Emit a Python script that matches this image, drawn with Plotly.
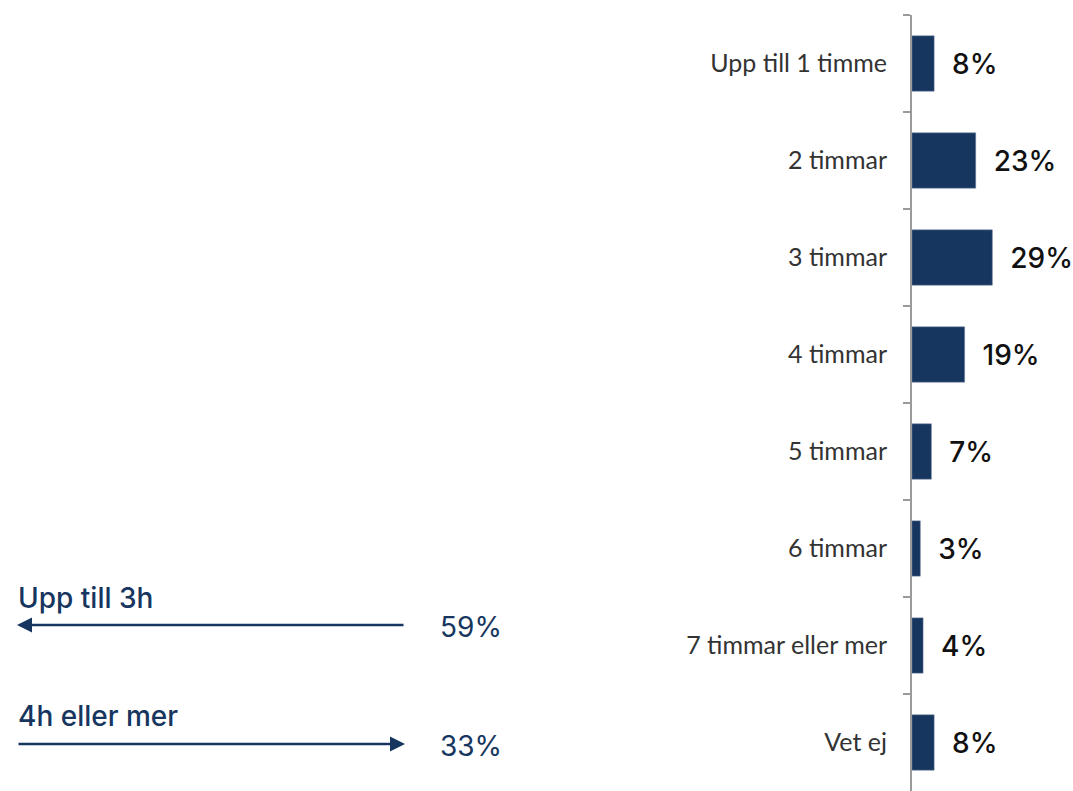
import plotly.graph_objects as go

categories = ["Upp till 1 timme", "2 timmar", "3 timmar", "4 timmar",
              "5 timmar", "6 timmar", "7 timmar eller mer", "Vet ej"]
values = [8, 23, 29, 19, 7, 3, 4, 8]

summary_labels = ["Upp till 3h", "4h eller mer"]
summary_values = [59, 33]

NAVY = "#17365f"
W, H = 1073, 791
T, B = 15, 0
AXIS_X = 912

def px(x):
    return x / W

def py(y):
    return 1 - (y - T) / (H - T - B)

fig = go.Figure()
fig.add_trace(go.Bar(
    y=categories, x=values, orientation="h",
    marker=dict(color=NAVY, line=dict(color="#6c7f9c", width=0.5)),
    width=0.57,
    text=["\u00a0\u00a0%d%%" % v for v in values],
    textposition="outside",
    textfont=dict(family="Inter, Lato, sans-serif", size=28, color="#111111", weight=500),
    cliponaxis=False,
    hoverinfo="skip",
))

fig.update_layout(
    width=W, height=H,
    margin=dict(l=0, r=0, t=T, b=B),
    paper_bgcolor="white", plot_bgcolor="white",
    showlegend=False,
    xaxis=dict(domain=[AXIS_X / W, 1], range=[0, (W - AXIS_X) / 2.77],
               visible=False, fixedrange=True),
    yaxis=dict(autorange="reversed", showline=True, linecolor="#9a9a9a",
               linewidth=2, ticks="outside", tickson="boundaries",
               ticklen=7, tickcolor="#9a9a9a", tickwidth=2,
               showgrid=False, zeroline=False, fixedrange=True,
               tickfont=dict(family="Lato, Inter, sans-serif", size=25, color="#333333"),
               ticklabelstandoff=18),
)

# summary annotations
label_y = [598, 716]
line_y = [625, 744]
for i, (lab, val) in enumerate(zip(summary_labels, summary_values)):
    fig.add_annotation(x=px(16), y=py(label_y[i]), xref="paper", yref="paper",
                       text=lab, showarrow=False, xanchor="left", yanchor="middle",
                       font=dict(family="Inter, Lato, sans-serif", size=28, color=NAVY, weight=500))
    fig.add_annotation(x=px(438), y=py(line_y[i] + 2), xref="paper", yref="paper",
                       text="%d%%" % val, showarrow=False, xanchor="left", yanchor="middle",
                       font=dict(family="Inter, Lato, sans-serif", size=28, color=NAVY))
    if i == 0:
        tip, tail = 17, 405
    else:
        tip, tail = 405, 17
    fig.add_annotation(x=px(tip), y=py(line_y[i]), ax=tail - tip, ay=0,
                       xref="paper", yref="paper", axref="pixel", ayref="pixel",
                       text="", showarrow=True, arrowhead=2, arrowsize=1.2,
                       arrowwidth=2.5, arrowcolor=NAVY, standoff=0)

fig.write_html(
    "out.html",
    config={"displayModeBar": False, "staticPlot": True},
    post_script="document.body.style.margin='0';document.body.style.overflow='hidden';",
)
